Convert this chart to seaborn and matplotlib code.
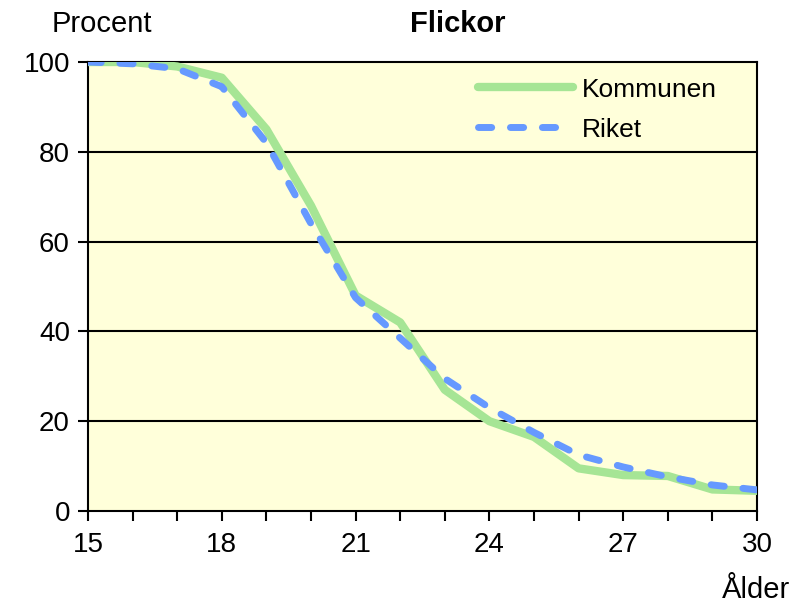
import numpy as np
import pandas as pd
import seaborn as sns
from matplotlib import pyplot as plt
from matplotlib.ticker import MultipleLocator

# Andel flickor (procent) per ålder
ages = [15, 16, 17, 18, 19, 20, 21, 22, 23, 24, 25, 26, 27, 28, 29, 30]
kommunen = [100, 100, 99, 96.5, 85, 68, 48, 42, 27, 20, 16.5, 9.5, 8, 7.8, 4.8, 4.5]
riket = [100, 99.6, 98.5, 94.5, 82, 64, 47.5, 38.5, 29.5, 23, 17.5, 12.5, 9.8, 7.6, 5.8, 4.7]

series_names = ["Kommunen", "Riket"]
colors = {"Kommunen": "#A6E595", "Riket": "#6699FF"}

df = pd.DataFrame({"Ålder": ages, "Kommunen": kommunen, "Riket": riket})
long_df = df.melt(id_vars="Ålder", var_name="Serie", value_name="Procent")

sns.set_theme(style="white")
plt.rcParams["font.family"] = ["Liberation Sans", "DejaVu Sans"]
plt.rcParams["text.color"] = "black"
plt.rcParams["xtick.color"] = "black"
plt.rcParams["ytick.color"] = "black"
plt.rcParams["xtick.labelcolor"] = "black"
plt.rcParams["ytick.labelcolor"] = "black"

fig = plt.figure(figsize=(7.94, 6.09), dpi=100)
ax = fig.add_axes([88 / 794, 98 / 609, 669 / 794, 449 / 609])
ax.set_facecolor("#FFFFDA")

# horizontal grid lines
for yv in [20, 40, 60, 80]:
    ax.axhline(yv, color="black", lw=1.5, zorder=1)

sns.lineplot(
    data=long_df,
    x="Ålder",
    y="Procent",
    hue="Serie",
    hue_order=series_names,
    palette=colors,
    ax=ax,
    legend=False,
    zorder=3,
)
green_line, blue_line = ax.get_lines()[-2:]
green_line.set_linewidth(6)
green_line.set_solid_capstyle("round")
green_line.set_solid_joinstyle("round")
blue_line.set_linewidth(5)
blue_line.set_dashes((1.9, 2.7))
blue_line.set_dash_capstyle("round")
blue_line.set_dash_joinstyle("round")
blue_line.set_zorder(4)

ax.set_xlim(15, 30)
ax.set_ylim(0, 100)
ax.xaxis.set_major_locator(MultipleLocator(3))
ax.xaxis.set_minor_locator(MultipleLocator(1))
ax.yaxis.set_major_locator(MultipleLocator(20))
ax.tick_params(axis="x", which="both", direction="out", length=7, width=1.5,
               color="black", labelcolor="black", bottom=True, labelsize=20, pad=8)
ax.tick_params(axis="y", which="major", direction="out", length=7, width=1.5,
               color="black", labelcolor="black", left=True, labelsize=20, pad=6)
for spine in ax.spines.values():
    spine.set_color("black")
    spine.set_linewidth(1.5)
    spine.set_visible(True)
ax.set_xlabel("")
ax.set_ylabel("")

# legend
handles = [
    plt.Line2D([], [], color=colors["Kommunen"], lw=6, solid_capstyle="round"),
    plt.Line2D([], [], color=colors["Riket"], lw=5, dashes=(1.9, 2.7),
               dash_capstyle="round"),
]
ax.legend(handles, series_names, loc="upper left", bbox_to_anchor=(0.583, 0.965),
          frameon=False, fontsize=19, handlelength=3.6, handletextpad=0.35,
          labelspacing=0.6, borderpad=0, borderaxespad=0, labelcolor="black")

fig.text(52 / 794, 1 - 24 / 609, "Procent", fontsize=21, ha="left", va="center",
         color="black")
fig.text(458 / 794, 1 - 24 / 609, "Flickor", fontsize=21, fontweight="bold",
         ha="center", va="center", color="black")
fig.text(790 / 794, 1 - 590 / 609, "Ålder", fontsize=21, ha="right", va="center",
         color="black")

fig.savefig("out.png", dpi=100, facecolor="white")
